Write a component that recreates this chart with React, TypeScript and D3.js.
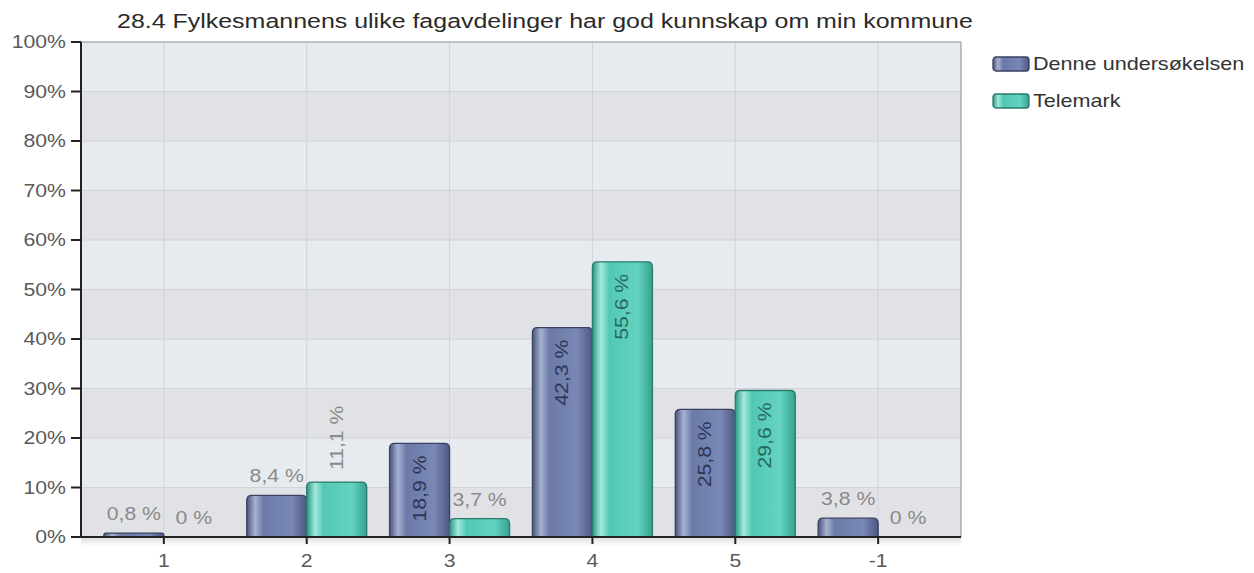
import React from 'react'
import * as d3 from 'd3'

const title = '28.4 Fylkesmannens ulike fagavdelinger har god kunnskap om min kommune'
const categories = ['1', '2', '3', '4', '5', '-1']
const seriesNames = ['Denne undersøkelsen', 'Telemark']
const denneValues = [0.8, 8.4, 18.9, 42.3, 25.8, 3.8]
const telemarkValues = [0, 11.1, 3.7, 55.6, 29.6, 0]
const yTicks = [0, 10, 20, 30, 40, 50, 60, 70, 80, 90, 100]

const W = 1254
const H = 573
const margin = { top: 42, right: 293, bottom: 36, left: 81 }
const font = '"Liberation Sans", Arial, Helvetica, sans-serif'
// the source picture is a bit stretched sideways, so text gets widened too
const stretch = 1.18

const palette = [
  { id: 'gDenne', stops: ['#48547e', '#a7b1d0', '#6c7aa8', '#7a88b6', '#4c5882'], stroke: '#39425f', label: '#2c3756' },
  { id: 'gTele', stops: ['#2d9684', '#a3eadc', '#52c8b4', '#64d3c0', '#35a290'], stroke: '#2a7b6d', label: '#276a5f' },
]

const fmt = (v: number) => `${String(v).replace('.', ',')} %`

interface TxtProps {
  x: number
  y: number
  rot?: number
  size?: number
  fill?: string
  anchor?: 'start' | 'middle' | 'end'
  dy?: string
  sx?: number
  children: React.ReactNode
}

const Txt: React.FC<TxtProps> = ({ x, y, rot = 0, size = 18, fill = '#5a5a5a', anchor = 'start', dy, sx = stretch, children }) => (
  <text transform={`translate(${x},${y}) rotate(${rot}) scale(${sx},1)`} fontSize={size} fill={fill}
    textAnchor={anchor} dy={dy}>{children}</text>
)

const App: React.FC = () => {
  const x0 = margin.left
  const x1 = W - margin.right
  const yTop = margin.top
  const yBot = H - margin.bottom

  const x = d3.scaleBand<string>().domain(categories).range([x0, x1]).paddingInner(0).paddingOuter(0.08)
  const y = d3.scaleLinear().domain([0, 100]).range([yBot, yTop])
  const step = x.step()
  const mid = (c: string) => x(c)! + x.bandwidth() / 2
  const sub = (c: string) =>
    d3.scaleBand<string>().domain(seriesNames).range([mid(c) - step * 0.42, mid(c) + step * 0.42])

  const rows = categories.map((c, i) => ({ c, vals: [denneValues[i], telemarkValues[i]] }))

  const barPath = (bx: number, bw: number, top: number, bottom: number) => {
    const r = Math.min(5, (bottom - top) / 2, bw / 2)
    return `M${bx},${bottom} L${bx},${top + r} Q${bx},${top} ${bx + r},${top} L${bx + bw - r},${top} Q${bx + bw},${top} ${bx + bw},${top + r} L${bx + bw},${bottom} Z`
  }

  return (
    <svg width={W} height={H} style={{ position: 'absolute', left: 0, top: 0, background: '#fff' }} fontFamily={font}>
      <defs>
        {palette.map(p => (
          <linearGradient key={p.id} id={p.id} x1="0" x2="1" y1="0" y2="0">
            <stop offset="0%" stopColor={p.stops[0]} />
            <stop offset="14%" stopColor={p.stops[1]} />
            <stop offset="28%" stopColor={p.stops[2]} />
            <stop offset="75%" stopColor={p.stops[3]} />
            <stop offset="100%" stopColor={p.stops[4]} />
          </linearGradient>
        ))}
        <linearGradient id="shadow" x1="0" x2="0" y1="0" y2="1">
          <stop offset="0%" stopColor="#000" stopOpacity={0.12} />
          <stop offset="100%" stopColor="#000" stopOpacity={0} />
        </linearGradient>
      </defs>

      {/* striped plot background */}
      {yTicks.slice(0, -1).map((t, i) => (
        <rect key={t} x={x0} y={y(t + 10)} width={x1 - x0} height={y(t) - y(t + 10)}
          fill={(yTicks.length - 2 - i) % 2 === 0 ? '#e7eaee' : '#e1e2e5'} />
      ))}
      {yTicks.slice(1, -1).map(t => (
        <line key={t} x1={x0} x2={x1} y1={y(t)} y2={y(t)} stroke="#d2d3d6" />
      ))}
      {categories.map(c => (
        <line key={c} x1={mid(c)} x2={mid(c)} y1={yTop} y2={yBot} stroke="#d0d3d8" />
      ))}
      <line x1={x0} x2={x1} y1={yTop} y2={yTop} stroke="#8a8a8a" />
      <line x1={x1} x2={x1} y1={yTop} y2={yBot} stroke="#8a8a8a" />
      <rect x={x0} y={yBot + 1} width={x1 - x0} height={8} fill="url(#shadow)" />

      {/* bars */}
      {rows.map(r => {
        const s = sub(r.c)
        return r.vals.map((v, k) => {
          if (v <= 0) return null
          const bx = s(seriesNames[k])!
          return (
            <path key={r.c + k} d={barPath(bx, s.bandwidth(), y(v), yBot)} fill={`url(#${palette[k].id})`}
              stroke={palette[k].stroke} strokeWidth={1.3} />
          )
        })
      })}

      {/* value labels */}
      {rows.map(r => {
        const s = sub(r.c)
        return r.vals.map((v, k) => {
          const cx = s(seriesNames[k])! + s.bandwidth() / 2
          const top = y(v)
          if (v >= 15) {
            return <Txt key={'l' + r.c + k} x={cx + 6} y={top + 12} rot={-90} anchor="end" fill={palette[k].label}>{fmt(v)}</Txt>
          }
          if (v >= 10) {
            return <Txt key={'l' + r.c + k} x={cx + 6} y={top - 12} rot={-90} fill="#8a8a8a">{fmt(v)}</Txt>
          }
          return <Txt key={'l' + r.c + k} x={cx} y={top - 13} anchor="middle" fill="#8a8a8a">{fmt(v)}</Txt>
        })
      })}

      {/* axes */}
      <line x1={x0} x2={x0} y1={yTop} y2={yBot} stroke="#222" strokeWidth={2} />
      <line x1={x0} x2={x1} y1={yBot} y2={yBot} stroke="#222" strokeWidth={2} />
      {yTicks.map(t => (
        <g key={t}>
          <line x1={x0 - 10} x2={x0} y1={y(t)} y2={y(t)} stroke="#222" strokeWidth={2} />
          <Txt x={x0 - 15} y={y(t)} dy="0.35em" anchor="end">{t}%</Txt>
        </g>
      ))}
      {categories.map(c => (
        <g key={c}>
          <line x1={mid(c)} x2={mid(c)} y1={yBot} y2={yBot + 7} stroke="#222" strokeWidth={2} />
          <Txt x={mid(c)} y={yBot + 30} anchor="middle">{c}</Txt>
        </g>
      ))}

      <Txt x={117} y={28} size={20.8} sx={1.2} fill="#2a2a2a">{title}</Txt>

      {/* legend */}
      {seriesNames.map((n, k) => (
        <g key={n} transform={`translate(993,${57 + k * 37})`}>
          <rect x={0} y={0} width={36} height={14} rx={3} fill={`url(#${palette[k].id})`} stroke={palette[k].stroke} strokeWidth={1.3} />
          <Txt x={40} y={7} dy="0.35em" size={18} sx={1.2} fill="#333">{n}</Txt>
        </g>
      ))}
    </svg>
  )
}

export default App
